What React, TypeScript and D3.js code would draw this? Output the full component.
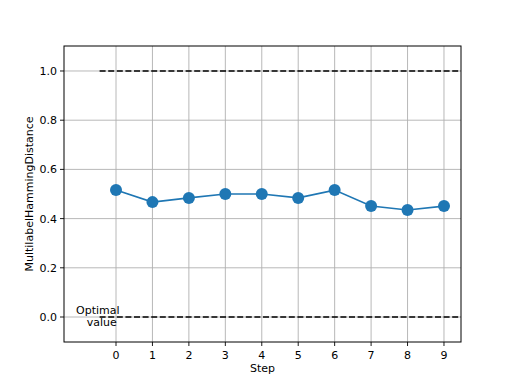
import React from "react";
import * as d3 from "d3";

const steps = [0, 1, 2, 3, 4, 5, 6, 7, 8, 9];
const values = [0.516, 0.467, 0.484, 0.5, 0.5, 0.484, 0.516, 0.451, 0.435, 0.451];
const yTicks = [0.0, 0.2, 0.4, 0.6, 0.8, 1.0];
const optimalLines = [0.0, 1.0];
const xLabel = "Step";
const yLabel = "MultilabelHammingDistance";
const annotation = ["Optimal", "value"];

export default function App() {
  const W = 512, H = 384;
  const left = 64, right = 461, top = 46, bottom = 342;
  const x = d3.scaleLinear().domain([-1.427, 9.467]).range([left, right]);
  const y = d3.scaleLinear().domain([-0.1016, 1.1016]).range([bottom, top]);
  const line = d3.line<number>().x((_, i) => x(steps[i])).y((d) => y(d));
  const font = "DejaVu Sans, sans-serif";
  return (
    <svg width={W} height={H} style={{ position: "absolute", left: 0, top: 0 }} fontFamily={font}>
      <rect width={W} height={H} fill="#fff" />
      {/* grid */}
      {steps.map((s) => (
        <line key={"gx" + s} x1={x(s)} x2={x(s)} y1={top} y2={bottom} stroke="#b0b0b0" strokeWidth={0.9} />
      ))}
      {yTicks.map((t) => (
        <line key={"gy" + t} x1={left} x2={right} y1={y(t)} y2={y(t)} stroke="#b0b0b0" strokeWidth={0.9} />
      ))}
      {/* optimal lines */}
      {optimalLines.map((v) => (
        <line key={"o" + v} x1={x(-0.45)} x2={right} y1={y(v)} y2={y(v)} stroke="#000" strokeWidth={1.6} strokeDasharray="6,2.6" />
      ))}
      <text x={x(-0.5)} y={y(0) - 3} fontSize={11} textAnchor="middle" fill="#000">{annotation[0]}</text>
      <text x={x(-0.5) + 4} y={y(0) + 9} fontSize={11} textAnchor="middle" fill="#000">{annotation[1]}</text>
      {/* series */}
      <path d={line(values) || ""} fill="none" stroke="#1f77b4" strokeWidth={1.67} />
      {values.map((v, i) => (
        <circle key={"p" + i} cx={x(steps[i])} cy={y(v)} r={6} fill="#1f77b4" />
      ))}
      {/* axes frame */}
      <rect x={left} y={top} width={right - left} height={bottom - top} fill="none" stroke="#000" strokeWidth={1} />
      {/* ticks */}
      {steps.map((s) => (
        <g key={"tx" + s}>
          <line x1={x(s)} x2={x(s)} y1={bottom} y2={bottom + 4} stroke="#000" strokeWidth={0.9} />
          <text x={x(s)} y={bottom + 17} fontSize={11} textAnchor="middle" fill="#000">{s}</text>
        </g>
      ))}
      {yTicks.map((t) => (
        <g key={"ty" + t}>
          <line x1={left - 4} x2={left} y1={y(t)} y2={y(t)} stroke="#000" strokeWidth={0.9} />
          <text x={left - 7} y={y(t) + 4} fontSize={11} textAnchor="end" fill="#000">{t.toFixed(1)}</text>
        </g>
      ))}
      <text x={(left + right) / 2} y={372} fontSize={11} textAnchor="middle" fill="#000">{xLabel}</text>
      <text transform={`translate(33,${(top + bottom) / 2}) rotate(-90)`} fontSize={11} textAnchor="middle" fill="#000">{yLabel}</text>
    </svg>
  );
}
